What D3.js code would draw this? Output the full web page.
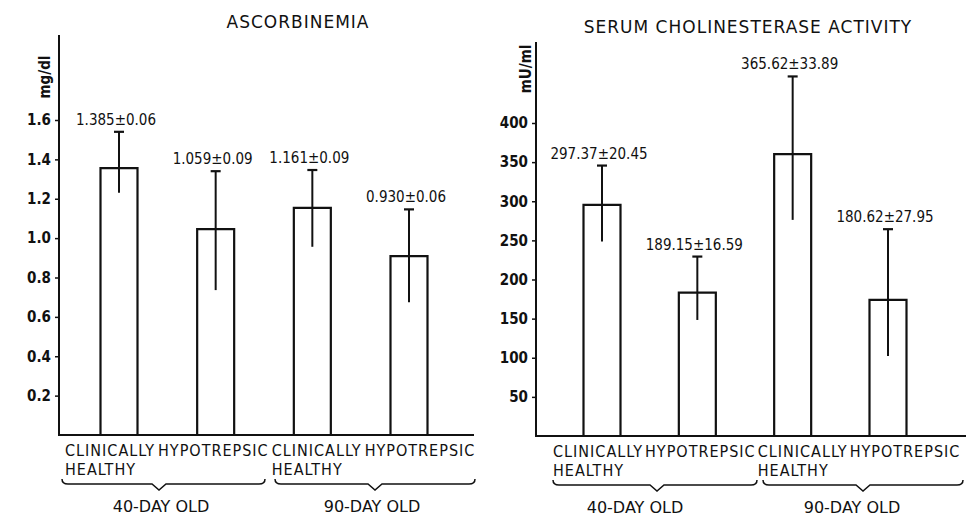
<!DOCTYPE html>
<html>
<head>
<meta charset="utf-8">
<script src="https://cdn.jsdelivr.net/npm/d3@7/dist/d3.min.js"></script>
<style>
  html, body { margin: 0; padding: 0; background: #fff; }
  svg text { font-family: "DejaVu Sans Condensed", "DejaVu Sans", sans-serif; font-stretch: condensed; fill: #111; }
  svg text.wide { font-family: "DejaVu Sans", sans-serif; font-stretch: normal; }
</style>
</head>
<body>
<svg id="chart" width="969" height="520"></svg>
<script>
// ---------- DATA ----------
const categoriesTop = ["CLINICALLY", "HYPOTREPSIC", "CLINICALLY", "HYPOTREPSIC"];
const categoriesBottom = ["HEALTHY", "", "HEALTHY", ""];
const groups = ["40-DAY OLD", "90-DAY OLD"];

const ascTitle = "ASCORBINEMIA";
const ascUnit = "mg/dl";
const ascMean = [1.356, 1.046, 1.154, 0.909];
const ascErrTop = [1.54, 1.34, 1.346, 1.146];
const ascErrBottom = [1.23, 0.736, 0.956, 0.674];
const ascLabels = ["1.385±0.06", "1.059±0.09", "1.161±0.09", "0.930±0.06"];
const ascTicks = [0.2, 0.4, 0.6, 0.8, 1.0, 1.2, 1.4, 1.6];

const cheTitle = "SERUM CHOLINESTERASE ACTIVITY";
const cheUnit = "mU/ml";
const cheMean = [295.4, 183.3, 360.2, 173.9];
const cheErrTop = [345.6, 229.3, 459.5, 264.3];
const cheErrBottom = [248.5, 148.3, 276.2, 102.3];
const cheLabels = ["297.37±20.45", "189.15±16.59", "365.62±33.89", "180.62±27.95"];
const cheTicks = [50, 100, 150, 200, 250, 300, 350, 400];

// ---------- LAYOUT ----------
const svg = d3.select("#chart");

const panels = [
  {
    title: ascTitle, unit: ascUnit, mean: ascMean, top: ascErrTop, bottom: ascErrBottom,
    labels: ascLabels, ticks: ascTicks, fmt: d3.format(".1f"),
    axisX: 59, axisTop: 35, axisRight: 474, base: 435, yMax: 1.6, yMaxPx: 120,
    barRange: [119, 409], labelRange: [110, 420], barW: 37,
    titleX: 298, titleY: 28, unitX: 50, unitY: 77,
    braces: [[62, 265, 159], [275, 475, 375]], groupX: [161, 372]
  },
  {
    title: cheTitle, unit: cheUnit, mean: cheMean, top: cheErrTop, bottom: cheErrBottom,
    labels: cheLabels, ticks: cheTicks, fmt: d3.format("d"),
    axisX: 536, axisTop: 42, axisRight: 966, base: 436, yMax: 400, yMaxPx: 123,
    barRange: [602, 888], labelRange: [598, 905], barW: 37,
    titleX: 748, titleY: 33, unitX: 531, unitY: 69,
    braces: [[553, 757, 657], [763, 963, 863]], groupX: [635, 852]
  }
];

panels.forEach(p => {
  const g = svg.append("g");
  const y = d3.scaleLinear().domain([0, p.yMax]).range([p.base, p.yMaxPx]);
  const x = d3.scalePoint().domain(d3.range(p.mean.length)).range(p.barRange);
  const xl = d3.scalePoint().domain(d3.range(p.mean.length)).range(p.labelRange);

  // title
  g.append("text").attr("class", "wide").attr("x", p.titleX).attr("y", p.titleY)
    .attr("text-anchor", "middle").style("font-size", "17px").style("letter-spacing", "1px")
    .text(p.title);

  // unit label (rotated)
  g.append("text")
    .attr("transform", `translate(${p.unitX},${p.unitY}) rotate(-90)`)
    .attr("text-anchor", "middle").style("font-size", "15px").style("font-weight", "bold")
    .text(p.unit);

  // y axis
  const axis = d3.axisLeft(y).tickValues(p.ticks).tickFormat(p.fmt).tickSize(4).tickPadding(4);
  const ag = g.append("g").attr("transform", `translate(${p.axisX},0)`).call(axis);
  ag.select(".domain").remove();
  ag.selectAll(".tick line").attr("stroke", "#111").attr("stroke-width", 1.5);
  ag.selectAll(".tick text").style("font-size", "15px").style("font-weight", "bold")
    .style("font-family", "'DejaVu Sans Condensed', 'DejaVu Sans', sans-serif").attr("fill", "#111");
  g.append("line").attr("x1", p.axisX).attr("x2", p.axisX)
    .attr("y1", p.axisTop).attr("y2", p.base + 1)
    .attr("stroke", "#111").attr("stroke-width", 2);
  // baseline
  g.append("line").attr("x1", p.axisX).attr("x2", p.axisRight)
    .attr("y1", p.base).attr("y2", p.base)
    .attr("stroke", "#111").attr("stroke-width", 2);

  // bars
  const idx = d3.range(p.mean.length);
  g.selectAll("path.bar").data(idx).enter().append("path")
    .attr("class", "bar")
    .attr("d", i => {
      const x0 = x(i) - p.barW / 2, x1 = x(i) + p.barW / 2;
      return `M${x0},${p.base}V${y(p.mean[i])}H${x1}V${p.base}`;
    })
    .attr("fill", "none").attr("stroke", "#111").attr("stroke-width", 2.2);

  // error bars
  g.selectAll("line.err").data(idx).enter().append("line")
    .attr("x1", i => x(i)).attr("x2", i => x(i))
    .attr("y1", i => y(p.top[i])).attr("y2", i => y(p.bottom[i]))
    .attr("stroke", "#111").attr("stroke-width", 2);
  g.selectAll("line.cap").data(idx).enter().append("line")
    .attr("x1", i => x(i) - 5).attr("x2", i => x(i) + 5)
    .attr("y1", i => y(p.top[i])).attr("y2", i => y(p.top[i]))
    .attr("stroke", "#111").attr("stroke-width", 2.2);

  // value labels
  g.selectAll("text.val").data(idx).enter().append("text")
    .attr("x", i => x(i) - 3).attr("y", i => y(p.top[i]) - 7)
    .attr("text-anchor", "middle").style("font-size", "15px")
    .text(i => p.labels[i]);

  // category labels
  idx.forEach(i => {
    const t = g.append("text").attr("y", 0).style("font-size", "16px")
      .style("letter-spacing", "1px").attr("text-anchor", "start");
    t.append("tspan").attr("x", 0).attr("y", 0).text(categoriesTop[i]);
    if (categoriesBottom[i]) t.append("tspan").attr("x", 0).attr("dy", 19).text(categoriesBottom[i]);
    const w = t.node().firstChild.getComputedTextLength();
    t.attr("transform", `translate(${xl(i) - w / 2},${p.base + 21})`);
  });

  // braces
  p.braces.forEach((b, k) => {
    const [b0, b1, tip] = b;
    const yb = p.base + 49;
    const path = `M${b0},${yb - 5} Q${b0},${yb} ${b0 + 6},${yb} L${tip - 7},${yb} L${tip},${yb + 6} L${tip + 7},${yb} L${b1 - 6},${yb} Q${b1},${yb} ${b1},${yb - 5}`;
    g.append("path").attr("d", path).attr("fill", "none").attr("stroke", "#111").attr("stroke-width", 1.5);
    g.append("text").attr("class", "wide").attr("x", p.groupX[k]).attr("y", p.base + 77)
      .attr("text-anchor", "middle").style("font-size", "16px").text(groups[k]);
  });
});
</script>
</body>
</html>
